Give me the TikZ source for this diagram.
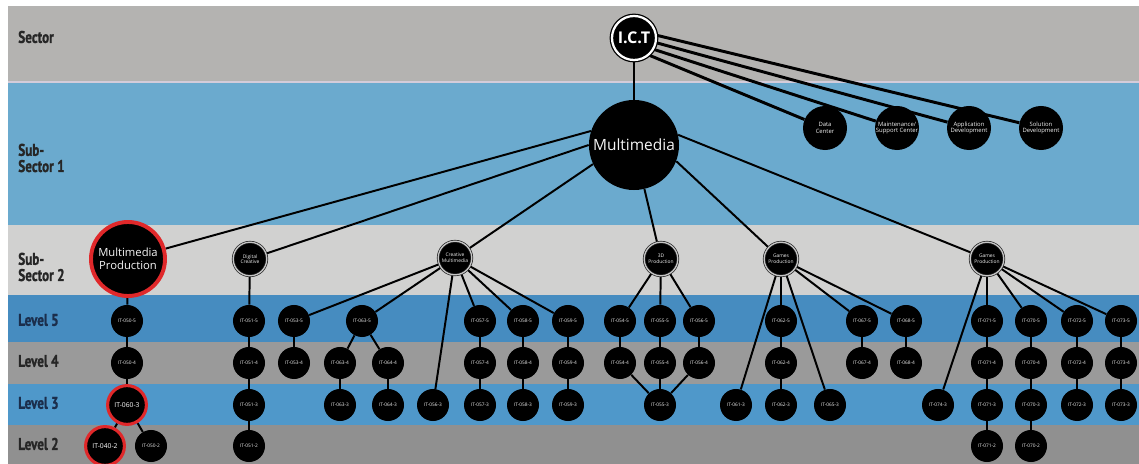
\documentclass[tikz,border=0pt]{standalone}
\usepackage{fontspec}
\setmainfont{Open Sans}
\newfontfamily\bandfont[FakeStretch=0.78, BoldFont={PT Sans Bold}, BoldFeatures={FakeBold=1.2}]{PT Sans}
\definecolor{sectorgray}{HTML}{B4B3B1}
\definecolor{sepline}{HTML}{D4CCDA}
\definecolor{subonebl}{HTML}{6BAACE}
\definecolor{subtwogr}{HTML}{D1D1D0}
\definecolor{lvfive}{HTML}{468CC0}
\definecolor{lvfour}{HTML}{9A9A9A}
\definecolor{lvthree}{HTML}{4F98CA}
\definecolor{lvtwo}{HTML}{909090}
\definecolor{ringred}{HTML}{E0282A}
\definecolor{navytext}{HTML}{1B2E4C}
\definecolor{darktext}{HTML}{262626}
\pgfdeclarelayer{bands}
\pgfdeclarelayer{links}
\pgfsetlayers{bands,links,main}
\tikzset{
  bandlabel/.style={anchor=west, inner sep=0pt, align=left, text=darktext,
    font=\bandfont\bfseries\fontsize{12}{11.5}\selectfont},
  ictnode/.style={circle, fill=black, draw=black, line width=0.9pt, double=white,
    double distance=1.6pt, minimum size=1.1cm, inner sep=0pt, text=white,
    font=\bfseries\fontsize{11.5}{12}\selectfont},
  bignode/.style={circle, fill=black, minimum size=2.25cm, inner sep=0pt,
    text=white!92!gray, font=\fontsize{11}{12}\selectfont},
  sideunit/.style={circle, fill=black, minimum size=1.1cm, inner sep=0pt,
    align=center, text=white!90!gray, font=\fontsize{4.2}{4.8}\selectfont},
  redunit/.style={circle, fill=black, draw=ringred, line width=2.8pt,
    minimum size=1.85cm, inner sep=0pt, align=center, text=white!92!gray,
    font=\fontsize{8}{9.6}\selectfont},
  subunit/.style={circle, fill=black, draw=black!85, line width=0.5pt,
    double=gray!45, double distance=0.9pt, minimum size=0.84cm, inner sep=0pt,
    align=center, text=white!90!gray, font=\fontsize{3.5}{4}\selectfont},
  lvnode/.style={circle, fill=black, minimum size=0.8cm, inner sep=0pt,
    text=white!88!gray, font=\fontsize{3.4}{4}\selectfont},
  redlv/.style={lvnode, draw=ringred, line width=2.2pt, minimum size=0.97cm,
    text=white, font=\fontsize{4.8}{5}\selectfont},
  link/.style={draw=black, line width=1.4pt},
  ictlink/.style={draw=black, line width=2.1pt}
}
\begin{document}
\begin{tikzpicture}[x=0.025cm,y=-0.025cm]
\useasboundingbox (0,0) rectangle (1139,464);

% horizontal bands
\begin{pgfonlayer}{bands}
\fill[white] (0,0) rectangle (1139,464);
\fill[sectorgray] (8,6) rectangle (1139,81);
\fill[sepline] (8,81) rectangle (1139,83);
\fill[subonebl] (8,83) rectangle (1139,225);
\fill[subtwogr] (8,225) rectangle (1139,295);
\fill[lvfive] (8,295) rectangle (1139,342);
\fill[lvfour] (8,342) rectangle (1139,384);
\fill[lvthree] (8,384) rectangle (1139,425);
\fill[lvtwo] (8,425) rectangle (1139,464);
\end{pgfonlayer}

% band titles
\node[bandlabel] (tsector) at (18,37) {Sector};
\node[bandlabel] (tsubone) at (18,158) {Sub-\\Sector 1};
\node[bandlabel] (tsubtwo) at (18,267) {Sub-\\Sector 2};
\node[bandlabel, text=navytext] (tlvfive) at (18,320) {Level 5};
\node[bandlabel] (tlvfour) at (18,361) {Level 4};
\node[bandlabel, text=navytext] (tlvthree) at (18,403) {Level 3};
\node[bandlabel] (tlvtwo) at (18,444) {Level 2};

% sector and sub-sectors
\node[ictnode] (ict) at (634,38) {I.C.T};
\node[bignode] (mm) at (634,145) {Multimedia};
\node[sideunit] (dcn) at (825,128) {Data\\Center};
\node[sideunit] (msc) at (897,128) {Maintenance/\\Support Center};
\node[sideunit] (apd) at (969,128) {Application\\Development};
\node[sideunit] (sod) at (1041,128) {Solution\\Development};

\node[redunit] (mp) at (128,259) {Multimedia\\Production};
\node[subunit] (dgc) at (250,259) {Digital\\Creative};
\node[subunit] (cmm) at (455,258) {Creative\\Multimedia};
\node[subunit] (tdp) at (661,259) {3D\\Production};
\node[subunit] (gpa) at (781,259) {Games\\Production};
\node[subunit] (gpb) at (987,259) {Games\\Production};

% unit standards
\foreach \nm/\x/\y/\t in {
  ma5/127/321/IT-050-5, ma4/127/363/IT-050-4, mc2/151/446/IT-050-2,
  da5/249/321/IT-051-5, da4/249/363/IT-051-4, da3/249/405/IT-051-3, da2/249/446/IT-051-2,
  ca5/294/321/IT-053-5, ca4/294/363/IT-053-4,
  cb5/362/321/IT-063-5, cc4/340/363/IT-063-4, cc3/340/405/IT-063-3,
  cd4/388/363/IT-064-4, cd3/388/405/IT-064-3,
  ce3/433/405/IT-056-3,
  cf5/480/321/IT-057-5, cf4/480/363/IT-057-4, cf3/480/405/IT-057-3,
  cg5/523/321/IT-058-5, cg4/523/363/IT-058-4, cg3/523/405/IT-058-3,
  ch5/568/321/IT-059-5, ch4/568/363/IT-059-4, ch3/568/405/IT-059-3,
  ta5/620/321/IT-054-5, ta4/620/363/IT-054-4,
  tb5/660/321/IT-055-5, tb4/660/363/IT-055-4, tb3/660/405/IT-055-3,
  tc5/699/321/IT-056-5, tc4/699/363/IT-056-4,
  ga3/736/405/IT-061-3,
  gb5/781/321/IT-062-5, gb4/781/363/IT-062-4, gb3/781/405/IT-062-3,
  gc3/830/405/IT-065-3,
  gd5/862/321/IT-067-5, gd4/862/363/IT-067-4,
  ge5/906/321/IT-068-5, ge4/906/363/IT-068-4,
  ha3/938/405/IT-074-3,
  hb5/987/321/IT-071-5, hb4/987/363/IT-071-4, hb3/987/405/IT-071-3, hb2/987/446/IT-071-2,
  hc5/1031/321/IT-070-5, hc4/1031/363/IT-070-4, hc3/1031/405/IT-070-3, hc2/1031/446/IT-070-2,
  hd5/1077/321/IT-072-5, hd4/1077/363/IT-072-4, hd3/1077/405/IT-072-3,
  he5/1121/321/IT-073-5, he4/1121/363/IT-073-4, he3/1121/405/IT-073-3}
  \node[lvnode] (\nm) at (\x,\y) {\t};
\node[redlv] (ma3) at (127,405) {IT-060-3};
\node[redlv] (mb2) at (105,446) {IT-040-2};

% connectors
\begin{pgfonlayer}{links}
\draw[ictlink] (ict) -- (mm);
\draw[ictlink] (ict.-49) -- (dcn);
\draw[ictlink] (ict.-30) -- (msc);
\draw[ictlink] (ict.-12) -- (apd);
\draw[ictlink] (ict.7) -- (sod);
\draw[link] (mm.162) -- (mp);
\draw[link] (mm.180) -- (dgc);
\draw[link] (mm.205) -- (cmm);
\draw[link] (mm) -- (tdp);
\draw[link] (mm.-21) -- (gpa);
\draw[link] (mm.13) -- (gpb);
\foreach \a/\b in {
  mp/ma5, ma5/ma4, ma4/ma3, ma3/mb2, ma3/mc2,
  dgc/da5, da5/da4, da4/da3, da3/da2,
  cmm/ca5, ca5/ca4, cmm/cb5, cb5/cc4, cb5/cd4, cc4/cc3, cd4/cd3,
  cmm/ce3, cmm/cf5, cf5/cf4, cf4/cf3, cmm/cg5, cg5/cg4, cg4/cg3,
  cmm/ch5, ch5/ch4, ch4/ch3,
  tdp/ta5, tdp/tb5, tdp/tc5, ta5/ta4, tb5/tb4, tc5/tc4, ta4/tb3, tb4/tb3, tc4/tb3,
  gpa/ga3, gpa/gb5, gb5/gb4, gb4/gb3, gpa/gc3, gpa/gd5, gd5/gd4, gpa/ge5, ge5/ge4,
  gpb/ha3, gpb/hb5, hb5/hb4, hb4/hb3, hb3/hb2, gpb/hc5, hc5/hc4, hc4/hc3, hc3/hc2,
  gpb/hd5, hd5/hd4, hd4/hd3, gpb/he5, he5/he4, he4/he3}
  \draw[link] (\a) -- (\b);
\end{pgfonlayer}
\end{tikzpicture}
\end{document}
